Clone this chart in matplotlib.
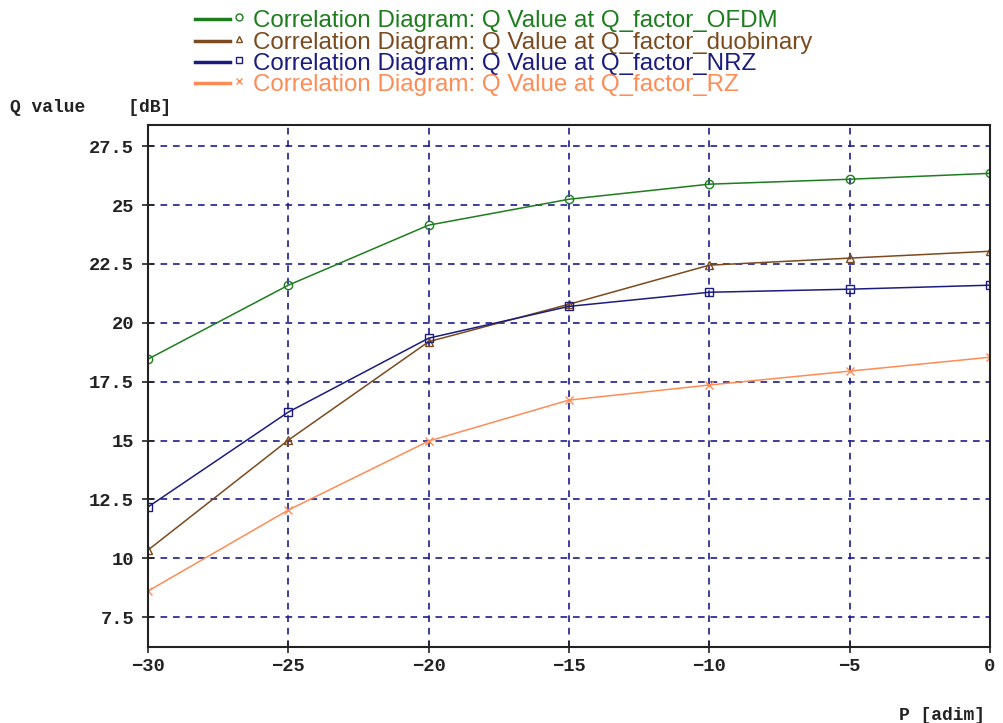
import numpy as np
import matplotlib
matplotlib.use('Agg')
import matplotlib.pyplot as plt
from matplotlib.lines import Line2D

# input power P [adim]
p = [-30, -25, -20, -15, -10, -5, 0]

# Q value [dB] for each modulation format
q_ofdm = [18.46, 21.6, 24.15, 25.25, 25.89, 26.1, 26.35]
q_duob = [10.35, 15.02, 19.2, 20.79, 22.45, 22.75, 23.04]
q_nrz = [12.18, 16.21, 19.35, 20.7, 21.3, 21.43, 21.6]
q_rz = [8.61, 12.05, 14.98, 16.72, 17.36, 17.95, 18.54]

labels = ['Correlation Diagram: Q Value at Q_factor_OFDM',
          'Correlation Diagram: Q Value at Q_factor_duobinary',
          'Correlation Diagram: Q Value at Q_factor_NRZ',
          'Correlation Diagram: Q Value at Q_factor_RZ']
colors = ['#1e7d1e', '#7b4a1e', '#1c1c80', '#ff8c55']
markers = ['o', '^', 's', 'x']
series = [q_ofdm, q_duob, q_nrz, q_rz]

xticks = [-30, -25, -20, -15, -10, -5, 0]
yticks = [7.5, 10, 12.5, 15, 17.5, 20, 22.5, 25, 27.5]
ytick_labels = ['7.5', '10', '12.5', '15', '17.5', '20', '22.5', '25', '27.5']

W, H = 1004, 723
fig = plt.figure(figsize=(W / 100, H / 100), dpi=100)
ax = fig.add_axes([0.1474, 0.105, 0.8386, 0.722])

for y, c, m in zip(series, colors, markers):
    ax.plot(p, y, color=c, lw=1.1, marker=m, ms=6, mfc='none', mec=c, mew=1.0)

ax.set_xlim(-30, 0)
ax.set_ylim(6.23, 28.4)
ax.set_xticks(xticks)
ax.set_yticks(yticks)
ax.set_yticklabels(ytick_labels)
ax.grid(True, color='#1c1c90', ls=(0, (4, 3.5)), lw=1.2)
for s in ax.spines.values():
    s.set_color('#222222')
    s.set_linewidth(1.5)
ax.tick_params(direction='inout', length=8, width=1.2, color='#222222', pad=4)
ax.tick_params(axis='y', pad=6)
for t in ax.get_xticklabels() + ax.get_yticklabels():
    t.set_family('Liberation Mono')
    t.set_fontweight('bold')
    t.set_fontsize(13.5)
    t.set_color('#222222')

fig.text(10 / W, 1 - 107 / H, 'Q value    [dB]', family='Liberation Mono', fontweight='bold',
         fontsize=13, color='#222222', va='center')
fig.text(985 / W, 1 - 715 / H, 'P [adim]', family='Liberation Mono', fontweight='bold',
         fontsize=13, color='#222222', ha='right', va='center')

# legend drawn by hand: line, small marker, coloured text
rows_y = [19, 41, 62, 83]
for yy, lab, c, m in zip(rows_y, labels, colors, markers):
    yf = 1 - yy / H
    fig.lines.append(Line2D([195 / W, 230 / W], [yf, yf], transform=fig.transFigure,
                            color=c, lw=2.5))
    fig.lines.append(Line2D([239 / W], [yf + 2 / H], transform=fig.transFigure, marker=m,
                            ms=5, mfc='none', mec=c, mew=1.0, ls='none'))
    fig.text(253 / W, yf - 2 / H, lab, color=c, family='Liberation Sans', fontsize=17.4,
             va='center')

fig.savefig('out.png', dpi=100)
